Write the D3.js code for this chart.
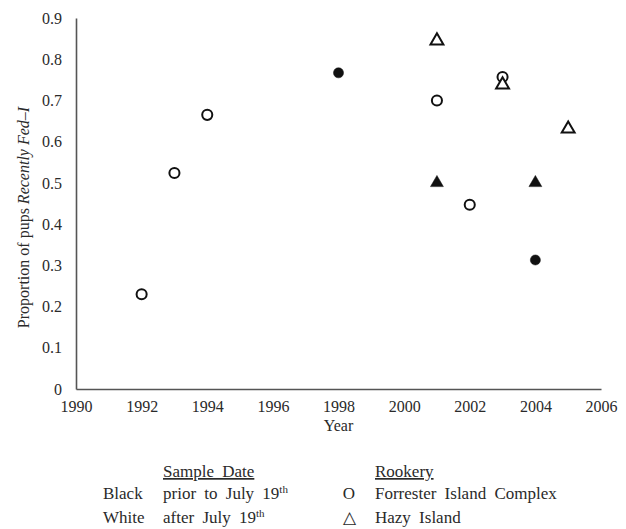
<!DOCTYPE html>
<html>
<head>
<meta charset="utf-8">
<script src="https://cdn.jsdelivr.net/npm/d3@7"></script>
<style>
  body { margin: 0; background: #fff; }
  svg text { font-family: "Liberation Serif", "Times New Roman", serif; fill: #2a2a2a; }
</style>
</head>
<body>
<div id="chart"></div>
<script>
// Forrester Island Complex (circles)
const fciYears = [1992, 1993, 1994, 1998, 2001, 2002, 2003, 2004];
const fciValues = [0.23, 0.524, 0.665, 0.767, 0.70, 0.447, 0.757, 0.313];
const fciBlack = [false, false, false, true, false, false, false, true];

// Hazy Island (triangles)
const hazyYears = [2001, 2001, 2003, 2004, 2005];
const hazyValues = [0.845, 0.50, 0.738, 0.50, 0.631];
const hazyBlack = [false, true, false, true, false];

const xTicks = [1990, 1992, 1994, 1996, 1998, 2000, 2002, 2004, 2006];
const yTicks = [0, 0.1, 0.2, 0.3, 0.4, 0.5, 0.6, 0.7, 0.8, 0.9];

const width = 626;
const height = 529;
const margin = { top: 18, right: 25, bottom: 140, left: 76 };

const svg = d3.select("#chart")
  .append("svg")
  .attr("width", width)
  .attr("height", height);

const x = d3.scaleLinear()
  .domain([1990, 2006])
  .range([margin.left, width - margin.right]);

const y = d3.scaleLinear()
  .domain([0, 0.9])
  .range([height - margin.bottom, margin.top]);

// axes, no tick marks
const xAxis = svg.append("g")
  .attr("transform", `translate(0,${y(0)})`)
  .call(d3.axisBottom(x).tickValues(xTicks).tickFormat(d3.format("d")).tickSize(0).tickPadding(12));
const yAxis = svg.append("g")
  .attr("transform", `translate(${x(1990)},0)`)
  .call(d3.axisLeft(y).tickValues(yTicks).tickFormat(d => d === 0 ? "0" : d3.format(".1f")(d)).tickSize(0).tickPadding(14));

[xAxis, yAxis].forEach(g => {
  g.attr("font-family", null);
  g.select(".domain").attr("stroke", "#555").attr("stroke-width", 1.6);
  g.selectAll("text")
    .attr("font-size", 16)
    .style("font-family", "'Liberation Serif', serif")
    .attr("fill", "#2a2a2a");
});

// axis titles
svg.append("text")
  .attr("x", (x(1990) + x(2006)) / 2)
  .attr("y", 431)
  .attr("text-anchor", "middle")
  .attr("font-size", 16)
  .text("Year");

const yTitle = svg.append("text")
  .attr("transform", `translate(29,${(y(0) + y(0.9)) / 2 + 14}) rotate(-90)`)
  .attr("text-anchor", "middle")
  .attr("font-size", 16);
yTitle.append("tspan").text("Proportion of pups ");
yTitle.append("tspan").attr("font-style", "italic").text("Recently Fed–I");

// points
const fci = fciYears.map((yr, i) => ({ year: yr, value: fciValues[i], black: fciBlack[i], shape: d3.symbolCircle }));
const hazy = hazyYears.map((yr, i) => ({ year: yr, value: hazyValues[i], black: hazyBlack[i], shape: d3.symbolTriangle }));

svg.append("g")
  .selectAll("path")
  .data(fci.concat(hazy))
  .join("path")
  .attr("transform", d => `translate(${x(d.year)},${y(d.value)})`)
  .attr("d", d => d3.symbol().type(d.shape).size(d.shape === d3.symbolCircle ? 80 : 72)())
  .attr("fill", d => d.black ? "#111" : "#fff")
  .attr("stroke", "#111")
  .attr("stroke-width", d => d.black ? 0.5 : 2);

// legend
const lg = svg.append("g").attr("font-size", 17).attr("word-spacing", 4);
lg.append("text").attr("x", 163).attr("y", 477).attr("text-decoration", "underline").text("Sample Date");
lg.append("text").attr("x", 103).attr("y", 499).text("Black");
lg.append("text").attr("x", 103).attr("y", 523).text("White");
const t1 = lg.append("text").attr("x", 163).attr("y", 499);
t1.append("tspan").text("prior to July 19");
t1.append("tspan").attr("font-size", 11).attr("dy", -6).text("th");
const t2 = lg.append("text").attr("x", 163).attr("y", 523);
t2.append("tspan").text("after July 19");
t2.append("tspan").attr("font-size", 11).attr("dy", -6).text("th");

lg.append("text").attr("x", 375).attr("y", 477).attr("text-decoration", "underline").text("Rookery");
lg.append("text").attr("x", 349).attr("y", 499).attr("text-anchor", "middle").text("O");
lg.append("text").attr("x", 349).attr("y", 523).attr("text-anchor", "middle").text("△");
lg.append("text").attr("x", 375).attr("y", 499).text("Forrester Island Complex");
lg.append("text").attr("x", 375).attr("y", 523).text("Hazy Island");
</script>
</body>
</html>
